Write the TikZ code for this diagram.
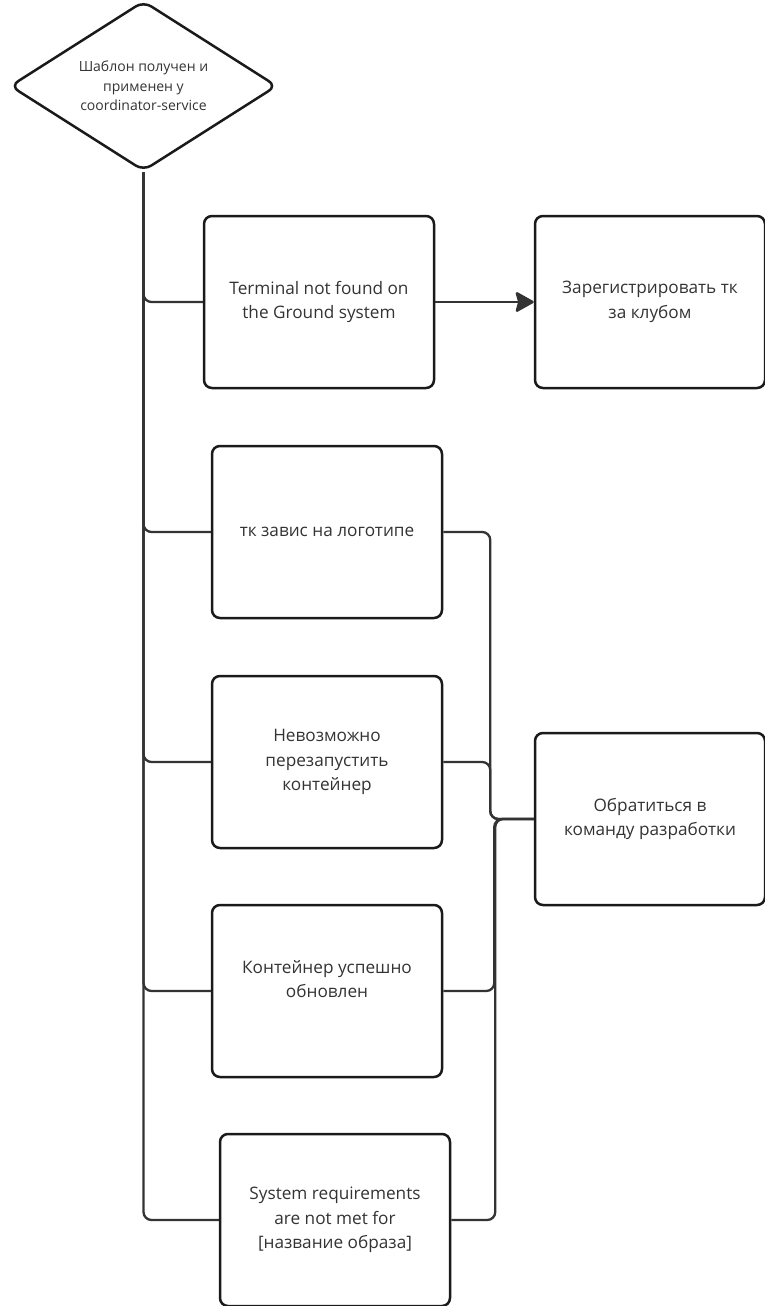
\documentclass[tikz,border=0pt]{standalone}
\usepackage{fontspec}
\setmainfont{Open Sans}
\usetikzlibrary{arrows.meta,shapes.geometric}
\definecolor{edgec}{HTML}{1A1A1A}
\definecolor{linec}{HTML}{333333}
\definecolor{txtc}{HTML}{333333}
\begin{document}
\begin{tikzpicture}[x=1pt,y=-1pt,
  box/.style={draw=edgec, line width=2.5pt, rounded corners=8pt, minimum width=230pt, minimum height=172pt, align=center, text=txtc, inner sep=0pt, font=\fontsize{17.2}{24.5}\selectfont},
  dia/.style={draw=edgec, line width=2.5pt, shape=diamond, aspect=1.57, minimum width=267pt, minimum height=170pt, rounded corners=9pt, align=center, text=txtc, inner sep=0pt, font=\fontsize{14}{19.5}\selectfont},
  conn/.style={draw=linec, line width=2.3pt, rounded corners=8pt},
  arr/.style={draw=linec, line width=2.5pt, -{Stealth[length=20pt,width=22pt,inset=3pt,round]}}
]
\useasboundingbox (0,0) rectangle (765,1306);
\node[dia] (d) at (143.5,86) {Шаблон получен и\\применен у\\coordinator-service};
\node[box] (t1) at (319,302) {Terminal not found on\\the Ground system};
\node[box] (t2) at (650,302) {Зарегистрировать тк\\за клубом};
\node[box] (t3) at (327,532) {тк завис на логотипе};
\node[box] (t4) at (327,762) {Невозможно\\перезапустить\\контейнер};
\node[box] (t5) at (327,991) {Контейнер успешно\\обновлен\\\mbox{}};
\node[box] (t6) at (335,1220) {System requirements\\are not met for\\{[}название образа{]}};
\node[box] (t7) at (650,819) {Обратиться в\\команду разработки};

\draw[conn] (d.south) |- (t1.west);
\draw[conn] (d.south) |- (t3.west);
\draw[conn] (d.south) |- (t4.west);
\draw[conn] (d.south) |- (t5.west);
\draw[conn] (d.south) |- (t6.west);
\draw[arr] (t1.east) -- (t2.west);
\draw[conn] (t3.east) -- ++(47,0) |- (t7.west);
\draw[conn] (t4.east) -- ++(47,0) |- (t7.west);
\draw[conn] (t5.east) -- ++(51,0) |- (t7.west);
\draw[conn] (t6.east) -- ++(44,0) |- (t7.west);
\end{tikzpicture}
\end{document}
